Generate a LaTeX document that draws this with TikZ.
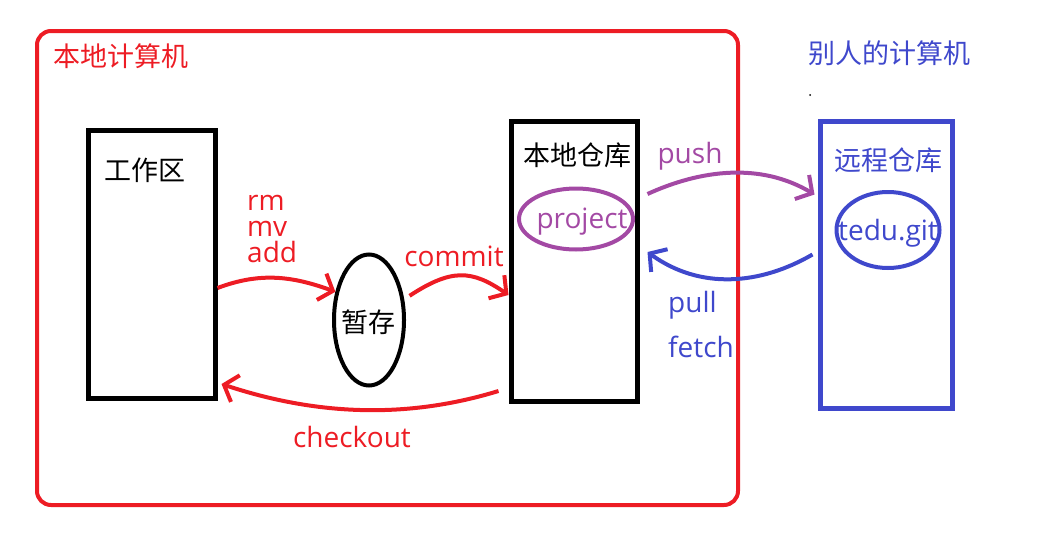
\documentclass[tikz,border=0pt]{standalone}
\usepackage{fontspec}
\setmainfont{Open Sans}
\newfontfamily\cjk{Noto Sans CJK SC}
\usetikzlibrary{arrows.meta,shapes.geometric}
\definecolor{myred}{RGB}{237,28,36}
\definecolor{mypurple}{RGB}{163,73,164}
\definecolor{myblue}{RGB}{63,72,204}
\tikzset{
  lat/.style={font=\fontsize{28}{32}\selectfont, inner sep=0pt},
  han/.style={font=\cjk\fontsize{27}{32}\selectfont, inner sep=0pt},
  box/.style={draw, line width=5pt, minimum width=#1, inner sep=0pt},
  flow/.style={line width=4pt, -{Straight Barb[length=12pt,width=28pt,line width=4pt]}},
  ell/.style={draw, ellipse, line width=4pt, inner sep=0pt}
}
\begin{document}
\begin{tikzpicture}[x=1pt,y=-1pt]
\useasboundingbox (0,0) rectangle (1040,538);
% outer frame
\node[draw=myred, line width=4pt, rounded corners=14pt, minimum width=701pt, minimum height=474pt, inner sep=0pt] (local) at (387.5,268) {};
\node[han, text=myred] (localtitle) at (121,56) {本地计算机};
\node[han, text=myblue] (othertitle) at (889,53) {别人的计算机};
\node[circle, fill=black, inner sep=0pt, minimum size=2pt] (dot) at (810,95) {};
% boxes
\node[box=127pt, minimum height=268pt] (ws) at (151.5,264) {};
\node[han] (wstext) at (145,170) {工作区};
\node[box=126pt, minimum height=280pt] (repo) at (574,261) {};
\node[han] (repotext) at (577,155) {本地仓库};
\node[box=132pt, minimum height=287pt, draw=myblue] (remote) at (886,264.5) {};
\node[han, text=myblue] (remotetext) at (888,160) {远程仓库};
% ellipses
\node[ell, minimum width=70pt, minimum height=131pt] (stash) at (369,320) {};
\node[han] (stashtext) at (368,322) {暂存};
\node[ell, draw=mypurple, minimum width=114pt, minimum height=61pt] (proj) at (576,219) {};
\node[lat, text=mypurple, anchor=base] (projtext) at (582,228) {project};
\node[ell, draw=myblue, minimum width=103pt, minimum height=76pt] (tedu) at (888,230) {};
\node[lat, text=myblue, anchor=base] (tedutext) at (888,240) {tedu.git};
% labels
\node[font=\fontsize{28}{26}\selectfont, inner sep=0pt, align=left, text=myred, anchor=base west] (ops) at (247,262) {rm\\mv\\add};
\node[lat, text=myred, anchor=base] (commit) at (454,266) {commit};
\node[lat, text=myred, anchor=base] (checkout) at (352,447) {checkout};
\node[lat, text=mypurple, anchor=base] (push) at (690,163) {push};
\node[lat, text=myblue, anchor=base west] (pull) at (668,312) {pull};
\node[lat, text=myblue, anchor=base west] (fetch) at (668,357) {fetch};
% connectors
\draw[flow, myred] ([yshift=-24pt,xshift=0pt]ws.east) .. controls (260,272) and (292,276) .. (stash.140);
\draw[flow, myred] ([xshift=6pt]stash.35) .. controls (452,268) and (472,270) .. ([yshift=-34pt]repo.west);
\draw[flow, myred] ([yshift=-130pt,xshift=-10pt]repo.west) .. controls (420,415) and (330,420) .. ([yshift=-120pt,xshift=4pt]ws.east);
\draw[flow, mypurple] ([yshift=67pt,xshift=8pt]repo.east) .. controls (700,170) and (760,162) .. ([yshift=70pt,xshift=-3pt]remote.west);
\draw[flow, myblue] ([yshift=10pt,xshift=-5pt]remote.west) .. controls (760,285) and (700,290) .. ([yshift=9pt,xshift=8pt]repo.east);
\end{tikzpicture}
\end{document}
